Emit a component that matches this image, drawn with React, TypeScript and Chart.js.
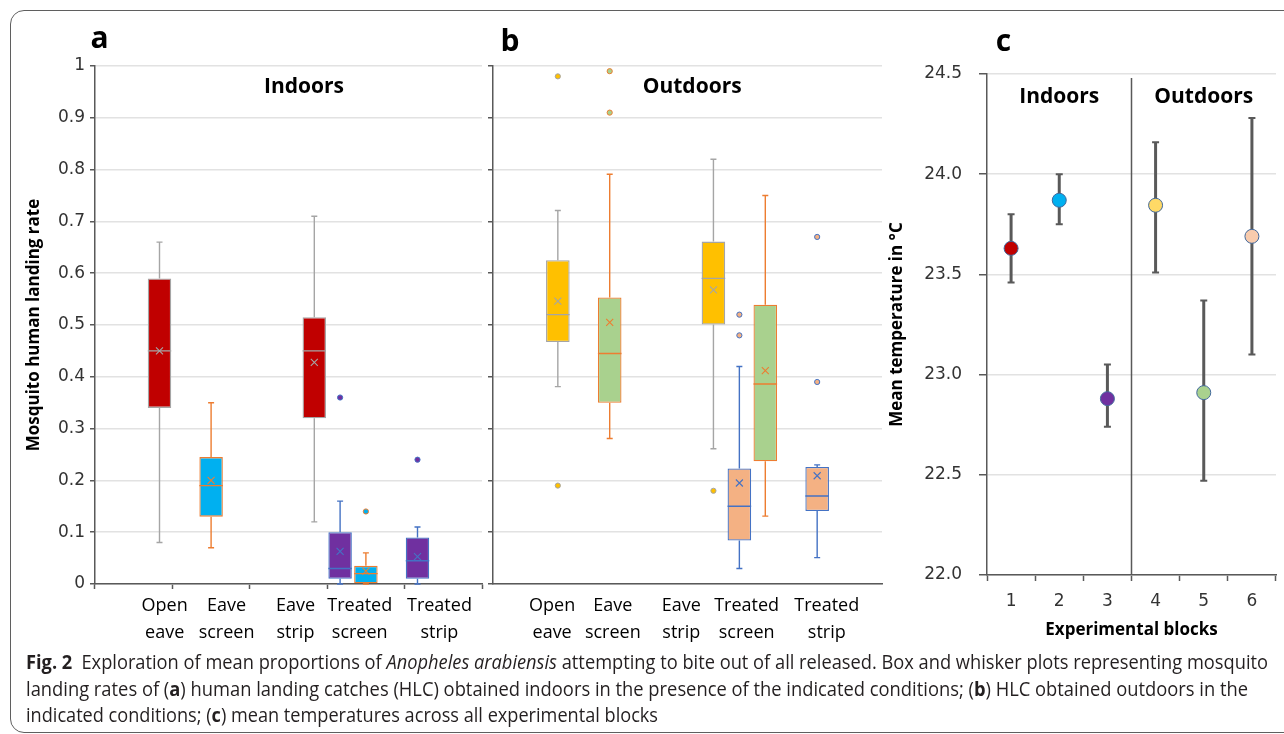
import React, { useEffect, useLayoutEffect, useRef } from 'react';
import { Chart, registerables } from 'chart.js';

Chart.register(...registerables);

// ---------------- data ----------------
const BOX_CATEGORIES = ['Open eave', 'Eave screen', 'Eave strip', 'Treated screen', 'Treated strip'];
const BOX_LABEL_LINES = [
  ['Open', 'eave'],
  ['Eave', 'screen'],
  ['Eave', 'strip'],
  ['Treated', 'screen'],
  ['Treated', 'strip'],
];
// where each (hand placed) category label sits, in category units
const LABEL_AT_A = [0.4, 1.2, 2.09, 2.92, 3.95];
const LABEL_AT_B = [0.26, 1.04, 1.92, 2.76, 3.79];

// box stats: [min, q1, median, q3, max, mean]
const A_PURPLE = [null, null, null, [0, 0.01, 0.03, 0.1, 0.16, 0.063], [0, 0.01, 0.045, 0.09, 0.11, 0.053]];
const A_PURPLE_OUT = [[], [], [], [0.36], [0.24]];
const A_BLUE = [null, [0.07, 0.13, 0.19, 0.245, 0.35, 0.2], null, [0, 0, 0.02, 0.035, 0.06, 0.025], null];
const A_BLUE_OUT = [[], [], [], [0.14], []];
const A_RED = [[0.08, 0.34, 0.45, 0.59, 0.66, 0.45], null, [0.12, 0.32, 0.45, 0.515, 0.71, 0.428], null, null];
const A_RED_OUT = [[], [], [], [], []];

const B_PEACH = [null, null, null, [0.03, 0.084, 0.15, 0.223, 0.42, 0.195], [0.051, 0.141, 0.17, 0.226, 0.23, 0.209]];
const B_PEACH_OUT = [[], [], [], [0.52, 0.48], [0.67, 0.39]];
const B_GREEN = [null, [0.281, 0.35, 0.445, 0.553, 0.791, 0.505], null, [0.131, 0.237, 0.386, 0.539, 0.75, 0.412], null];
const B_GREEN_OUT = [[], [0.99, 0.91], [], [], []];
const B_YELLOW = [[0.381, 0.467, 0.52, 0.625, 0.721, 0.546], null, [0.261, 0.501, 0.59, 0.661, 0.82, 0.568], null, null];
const B_YELLOW_OUT = [[0.98, 0.19], [], [0.18], [], []];

const BLOCKS = ['1', '2', '3', '4', '5', '6'];
const TEMP_MEAN = [23.63, 23.87, 22.88, 23.845, 22.91, 23.69];
const TEMP_LOW = [23.46, 23.75, 22.74, 23.51, 22.47, 23.1];
const TEMP_HIGH = [23.8, 24.0, 23.05, 24.16, 23.37, 24.28];

// ---------------- styles ----------------
const AXIS = '#595959';
const GRID = '#e2e2e2';
const TICK_FONT = { family: '"DejaVu Sans"', size: 17 };
const TITLE_FONT = { family: '"Open Sans"', size: 17, weight: 'bold' as const };
const C_RED = '#C00000';
const C_BLUE = '#00B0F0';
const C_PURPLE = '#7030A0';
const C_YELLOW = '#FFC000';
const C_GREEN = '#A9D18E';
const C_PEACH = '#F4B183';
const L_GRAY = '#A5A5A5';
const L_ORANGE = '#ED7D31';
const L_STEEL = '#4472C4';
const TEMP_COLORS = ['#C00000', '#00B0F0', '#7030A0', '#FFD966', '#A9D18E', '#F8CBAD'];

function boxDataset(stats: any[], outliers: number[][], fill: string, line: string) {
  return {
    type: 'bar' as const,
    data: stats.map((s) => (s ? [s[1], s[3]] : null)),
    stats,
    outliers,
    lineColor: line,
    backgroundColor: fill,
    borderColor: line,
    borderWidth: 1.3,
    borderSkipped: false,
    categoryPercentage: 1,
    barPercentage: 0.91,
  };
}

const boxWhiskerPlugin = {
  id: 'boxWhisker',
  afterDatasetsDraw(chart: any) {
    const { ctx } = chart;
    const ys = chart.scales.y;
    const py = (v: number) => ys.getPixelForValue(v);
    chart.data.datasets.forEach((ds: any, di: number) => {
      const meta = chart.getDatasetMeta(di);
      meta.data.forEach((el: any, i: number) => {
        const s = ds.stats[i];
        if (!s) return;
        const [mn, q1, md, q3, mx, mean] = s;
        const x = el.x;
        const w = el.width;
        ctx.save();
        ctx.strokeStyle = ds.lineColor;
        ctx.lineWidth = 1.4;
        ctx.beginPath();
        ctx.moveTo(x, py(q3));
        ctx.lineTo(x, py(mx));
        ctx.moveTo(x - 3, py(mx));
        ctx.lineTo(x + 3, py(mx));
        ctx.moveTo(x, py(q1));
        ctx.lineTo(x, py(mn));
        ctx.moveTo(x - 3, py(mn));
        ctx.lineTo(x + 3, py(mn));
        ctx.moveTo(x - w / 2, py(md));
        ctx.lineTo(x + w / 2, py(md));
        ctx.stroke();
        // mean marker (x)
        const my = py(mean);
        ctx.lineWidth = 1.1;
        ctx.beginPath();
        ctx.moveTo(x - 3.5, my - 3.5);
        ctx.lineTo(x + 3.5, my + 3.5);
        ctx.moveTo(x - 3.5, my + 3.5);
        ctx.lineTo(x + 3.5, my - 3.5);
        ctx.stroke();
        // outliers
        ctx.fillStyle = ds.backgroundColor;
        ctx.lineWidth = 1;
        (ds.outliers[i] || []).forEach((v: number) => {
          ctx.beginPath();
          ctx.arc(x, py(v), 2.6, 0, Math.PI * 2);
          ctx.fill();
          ctx.stroke();
        });
        ctx.restore();
      });
    });
  },
};

function drawText(ctx: any, text: string, x: number, y: number, font: string, align = 'center') {
  ctx.save();
  ctx.font = font;
  ctx.fillStyle = '#000';
  ctx.textAlign = align;
  ctx.textBaseline = 'alphabetic';
  ctx.fillText(text, x, y);
  ctx.restore();
}

function drawCategoryLabels(chart: any, at: number[]) {
  const { ctx, chartArea: ca } = chart;
  const xs = chart.scales.x;
  BOX_LABEL_LINES.forEach((lines, i) => {
    const x = xs.getPixelForValue(at[i]);
    lines.forEach((t, k) => drawText(ctx, t, x, ca.bottom + 27 + k * 27, '18px "Open Sans"'));
  });
}

function rateOptions(showLabels: boolean, yWidth: number, padRight: number) {
  return {
    responsive: false,
    animation: false as const,
    devicePixelRatio: 1,
    layout: { padding: { top: 66, right: padRight, left: 0, bottom: 0 } },
    plugins: { legend: { display: false }, tooltip: { enabled: false } },
    scales: {
      x: {
        type: 'category' as const,
        offset: true,
        grid: {
          offset: true,
          drawOnChartArea: false,
          drawTicks: showLabels,
          tickLength: 5,
          tickColor: AXIS,
          tickWidth: 1.5,
        },
        border: { color: AXIS, width: 1.5 },
        ticks: { display: false },
        afterFit: (s: any) => {
          s.height = 66;
        },
      },
      y: {
        min: 0,
        max: 1,
        ticks: {
          display: showLabels,
          stepSize: 0.1,
          font: TICK_FONT,
          color: '#333',
          padding: 5,
          callback: (v: any) => String(+Number(v).toFixed(1)),
        },
        grid: { color: GRID, lineWidth: 1.5, tickColor: AXIS, tickLength: 5, tickWidth: 1.5 },
        border: { color: AXIS, width: 1.5 },
        title: {
          display: showLabels,
          text: 'Mosquito human landing rate',
          font: TITLE_FONT,
          color: '#000',
          padding: { top: 24, bottom: 0 },
        },
        afterFit: (s: any) => {
          s.width = yWidth;
        },
      },
    },
  };
}

function makePanelA(canvas: HTMLCanvasElement) {
  return new Chart(canvas, {
    type: 'bar',
    data: {
      labels: BOX_CATEGORIES,
      datasets: [
        boxDataset(A_PURPLE, A_PURPLE_OUT, C_PURPLE, L_STEEL),
        boxDataset(A_BLUE, A_BLUE_OUT, C_BLUE, L_ORANGE),
        boxDataset(A_RED, A_RED_OUT, C_RED, L_GRAY),
      ] as any,
    },
    options: rateOptions(true, 95, 4) as any,
    plugins: [
      boxWhiskerPlugin,
      {
        id: 'textA',
        afterDraw(chart: any) {
          const { ctx, chartArea: ca } = chart;
          drawText(ctx, 'a', ca.left + 4.5, ca.top - 18, 'bold 30px "Open Sans"');
          drawText(ctx, 'Indoors', ca.left + ca.width * 0.54, ca.top + 27, 'bold 21px "Open Sans"');
          drawCategoryLabels(chart, LABEL_AT_A);
        },
      },
    ],
  });
}

function makePanelB(canvas: HTMLCanvasElement) {
  return new Chart(canvas, {
    type: 'bar',
    data: {
      labels: BOX_CATEGORIES,
      datasets: [
        boxDataset(B_PEACH, B_PEACH_OUT, C_PEACH, L_STEEL),
        boxDataset(B_GREEN, B_GREEN_OUT, C_GREEN, L_ORANGE),
        boxDataset(B_YELLOW, B_YELLOW_OUT, C_YELLOW, L_GRAY),
      ] as any,
    },
    options: rateOptions(false, 7, 2) as any,
    plugins: [
      boxWhiskerPlugin,
      {
        id: 'textB',
        afterDraw(chart: any) {
          const { ctx, chartArea: ca } = chart;
          drawText(ctx, 'b', ca.left + 17, ca.top - 15, 'bold 30px "Open Sans"');
          drawText(ctx, 'Outdoors', ca.left + ca.width * 0.512, ca.top + 27, 'bold 21px "Open Sans"');
          drawCategoryLabels(chart, LABEL_AT_B);
        },
      },
    ],
  });
}

function makePanelC(canvas: HTMLCanvasElement) {
  return new Chart(canvas, {
    type: 'line',
    data: {
      labels: BLOCKS,
      datasets: [
        {
          data: TEMP_MEAN,
          showLine: false,
          pointRadius: 7,
          pointHoverRadius: 7,
          pointBackgroundColor: TEMP_COLORS,
          pointBorderColor: '#41689C',
          pointBorderWidth: 1,
        },
      ],
    },
    options: {
      responsive: false,
      animation: false,
      devicePixelRatio: 1,
      layout: { padding: { top: 74, right: 5, left: 0, bottom: 0 } },
      plugins: { legend: { display: false }, tooltip: { enabled: false } },
      scales: {
        x: {
          type: 'category',
          offset: true,
          grid: { offset: true, drawOnChartArea: false, tickLength: 6, tickColor: AXIS, tickWidth: 1.5 },
          border: { color: AXIS, width: 1.5 },
          ticks: { font: TICK_FONT, color: '#333', padding: 10, maxRotation: 0 },
          title: {
            display: true,
            text: 'Experimental blocks',
            font: TITLE_FONT,
            color: '#000',
            padding: { top: 0, bottom: 20 },
          },
          afterFit: (s: any) => {
            s.height = 85;
          },
        },
        y: {
          min: 22,
          max: 24.5,
          ticks: {
            stepSize: 0.5,
            font: TICK_FONT,
            color: '#333',
            padding: 17,
            callback: (v: any) => Number(v).toFixed(1),
          },
          grid: { color: GRID, lineWidth: 1.5, tickColor: AXIS, tickLength: 8, tickWidth: 1.5 },
          border: { color: AXIS, width: 1.5 },
          title: {
            display: true,
            text: 'Mean temperature in °C',
            font: TITLE_FONT,
            color: '#000',
            padding: { top: 3, bottom: 0 },
          },
          afterFit: (s: any) => {
            s.width = 103;
          },
        },
      },
    } as any,
    plugins: [
      {
        id: 'errorBars',
        beforeDatasetsDraw(chart: any) {
          const { ctx } = chart;
          const ys = chart.scales.y;
          const meta = chart.getDatasetMeta(0);
          ctx.save();
          ctx.strokeStyle = AXIS;
          meta.data.forEach((pt: any, i: number) => {
            const x = pt.x;
            const yl = ys.getPixelForValue(TEMP_LOW[i]);
            const yh = ys.getPixelForValue(TEMP_HIGH[i]);
            ctx.lineWidth = 3;
            ctx.beginPath();
            ctx.moveTo(x, yl);
            ctx.lineTo(x, yh);
            ctx.stroke();
            ctx.lineWidth = 2;
            ctx.beginPath();
            ctx.moveTo(x - 3.5, yl);
            ctx.lineTo(x + 3.5, yl);
            ctx.moveTo(x - 3.5, yh);
            ctx.lineTo(x + 3.5, yh);
            ctx.stroke();
          });
          ctx.restore();
        },
        afterDraw(chart: any) {
          const { ctx, chartArea: ca } = chart;
          const xs = chart.scales.x;
          const xd = (xs.getPixelForValue(2) + xs.getPixelForValue(3)) / 2;
          ctx.save();
          ctx.strokeStyle = AXIS;
          ctx.lineWidth = 1.5;
          ctx.beginPath();
          ctx.moveTo(xd, ca.top + 4);
          ctx.lineTo(xd, ca.bottom);
          ctx.stroke();
          ctx.restore();
          drawText(ctx, 'c', ca.left + 16.5, ca.top - 23, 'bold 30px "Open Sans"');
          drawText(ctx, 'Indoors', (ca.left + xd) / 2, ca.top + 29, 'bold 21px "Open Sans"');
          drawText(ctx, 'Outdoors', (xd + ca.right) / 2, ca.top + 29, 'bold 21px "Open Sans"');
        },
      },
    ],
  });
}

// ---------------- caption ----------------
function CaptionLine({ top, width, children }: { top: number; width: number; children: any }) {
  const ref = useRef<HTMLSpanElement>(null);
  useLayoutEffect(() => {
    const fit = () => {
      const el = ref.current;
      if (!el) return;
      el.style.transform = 'none';
      const w = el.getBoundingClientRect().width;
      if (w > 0) el.style.transform = `scaleX(${width / w})`;
    };
    fit();
    if ((document as any).fonts && (document as any).fonts.ready) (document as any).fonts.ready.then(fit);
  }, [width]);
  return (
    <div
      style={{
        position: 'absolute',
        left: 26,
        top,
        whiteSpace: 'nowrap',
        fontFamily: '"Open Sans", sans-serif',
        fontSize: 20,
        lineHeight: '26px',
        color: '#231F20',
      }}
    >
      <span ref={ref} style={{ display: 'inline-block', transformOrigin: '0 0' }}>
        {children}
      </span>
    </div>
  );
}

export default function App() {
  const aRef = useRef<HTMLCanvasElement>(null);
  const bRef = useRef<HTMLCanvasElement>(null);
  const cRef = useRef<HTMLCanvasElement>(null);

  useEffect(() => {
    const charts = [makePanelA(aRef.current!), makePanelB(bRef.current!), makePanelC(cRef.current!)];
    return () => charts.forEach((c) => c.destroy());
  }, []);

  return (
    <div
      style={{
        position: 'absolute',
        left: 0,
        top: 0,
        width: 1284,
        height: 734,
        overflow: 'hidden',
        background: '#fff',
      }}
    >
      <div
        style={{
          position: 'absolute',
          left: 10,
          top: 10,
          width: 1320,
          height: 723,
          border: '1.5px solid #5f5f5f',
          borderRadius: 14,
          boxSizing: 'border-box',
        }}
      />
      <canvas ref={aRef} width={486} height={650} style={{ position: 'absolute', left: 0, top: 0 }} />
      <canvas ref={bRef} width={398} height={650} style={{ position: 'absolute', left: 486, top: 0 }} />
      <canvas ref={cRef} width={400} height={660} style={{ position: 'absolute', left: 884, top: 0 }} />
      <CaptionLine top={649} width={1242}>
        <b>Fig. 2</b>
        {'\u2002'}Exploration of mean proportions of <i>Anopheles arabiensis</i> attempting to bite out of all
        released. Box and whisker plots representing mosquito
      </CaptionLine>
      <CaptionLine top={676} width={1222}>
        landing rates of (<b>a</b>) human landing catches (HLC) obtained indoors in the presence of the indicated
        conditions; (<b>b</b>) HLC obtained outdoors in the
      </CaptionLine>
      <CaptionLine top={702} width={632}>
        indicated conditions; (<b>c</b>) mean temperatures across all experimental blocks
      </CaptionLine>
    </div>
  );
}
